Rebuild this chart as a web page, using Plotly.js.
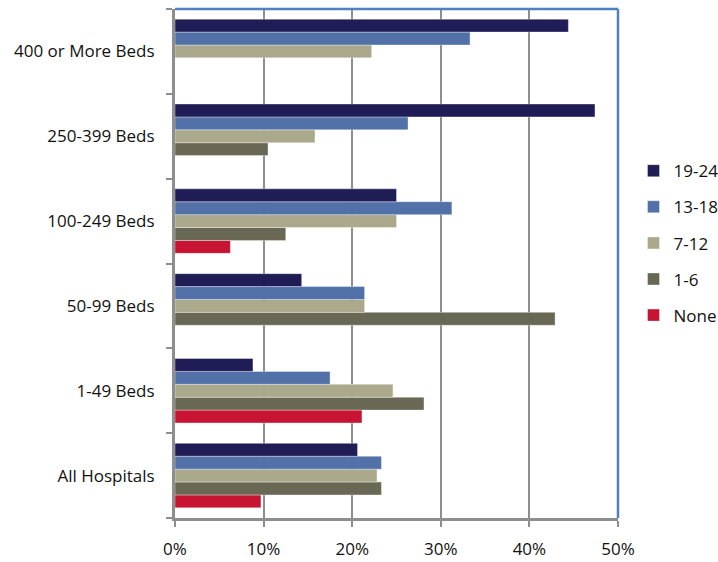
<!DOCTYPE html>
<html><head><meta charset="utf-8">
<script src="https://cdn.plot.ly/plotly-3.0.1.min.js"></script>
<style>html,body{margin:0;padding:0;background:#fff}#chart{width:718px;height:562px}</style>
</head><body><div id="chart"></div>
<script>
const categories = ["All Hospitals", "1-49 Beds", "50-99 Beds", "100-249 Beds", "250-399 Beds", "400 or More Beds"];
const series = ["None", "1-6", "7-12", "13-18", "19-24"];
const vNone  = [0.097, 0.211, null, 0.0625, null, null];
const v1_6   = [0.233, 0.281, 0.429, 0.125, 0.105, null];
const v7_12  = [0.228, 0.246, 0.214, 0.25, 0.158, 0.222];
const v13_18 = [0.233, 0.175, 0.214, 0.3125, 0.263, 0.333];
const v19_24 = [0.206, 0.088, 0.143, 0.25, 0.474, 0.444];
const xTicks = [0, 0.1, 0.2, 0.3, 0.4, 0.5];
const xTickText = ["0%", "10%", "20%", "30%", "40%", "50%"];
const colors = ["#c61432", "#696854", "#aaa98c", "#5171a8", "#201c55"];
const values = [vNone, v1_6, v7_12, v13_18, v19_24];

const traces = series.map((name, i) => ({
  type: "bar", orientation: "h", name: name, y: categories, x: values[i],
  legendgroup: name, legendrank: 1000 - i * 10,
  marker: {color: colors[i], line: {color: "rgba(255,255,255,0.6)", width: 0.6}},
  hoverinfo: "x+name"
}));

const fontFam = "'Open Sans', Lato, sans-serif";
const layout = {
  width: 718, height: 562,
  margin: {l: 175, r: 100, t: 9, b: 44, autoexpand: false},
  paper_bgcolor: "#fff", plot_bgcolor: "#fff",
  barmode: "group", bargap: 0.24, bargroupgap: 0,
  font: {family: fontFam, size: 17, color: "#111"},
  xaxis: {
    range: [0, 0.5], tickvals: xTicks, ticktext: xTickText,
    showgrid: true, gridcolor: "#8e8e8e", gridwidth: 2,
    showline: true, linecolor: "#8e8e8e", linewidth: 3,
    ticks: "outside", ticklen: 6, tickwidth: 2, tickcolor: "#8e8e8e",
    ticklabelstandoff: 8,
    zeroline: false, fixedrange: true, automargin: false,
    tickfont: {family: fontFam, size: 17, color: "#111"}
  },
  yaxis: {
    type: "category", showgrid: false,
    showline: true, linecolor: "#8e8e8e", linewidth: 3,
    ticks: "outside", tickson: "boundaries", ticklen: 6, tickwidth: 2, tickcolor: "#8e8e8e",
    ticklabelstandoff: 14, automargin: false,
    tickfont: {family: fontFam, size: 17, color: "#111"},
    fixedrange: true
  },
  showlegend: true,
  legend: {
    x: 1.035, xanchor: "left", y: 0.54, yanchor: "middle",
    traceorder: "grouped", tracegroupgap: 11,
    font: {family: fontFam, size: 17, color: "#111"},
    bgcolor: "rgba(0,0,0,0)"
  },
  shapes: [
    {type: "line", xref: "paper", yref: "paper", x0: 0, x1: 1, y0: 1, y1: 1, line: {color: "#4f81bd", width: 2.5}, layer: "above"},
    {type: "line", xref: "paper", yref: "paper", x0: 1, x1: 1, y0: 0, y1: 1, line: {color: "#4f81bd", width: 2.5}, layer: "above"}
  ]
};

Plotly.newPlot("chart", traces, layout, {displayModeBar: false, staticPlot: true});
</script>
</body></html>
